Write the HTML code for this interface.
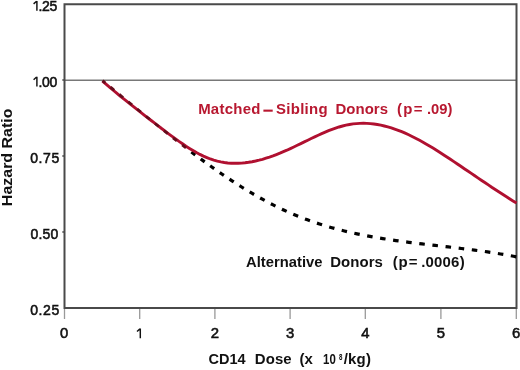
<!DOCTYPE html>
<html><head><meta charset="utf-8"><style>
html,body{margin:0;padding:0;background:#fff;}
body{width:520px;height:370px;overflow:hidden;position:relative;}
svg{position:absolute;left:0;top:0;filter:blur(0.35px);}
text{font-family:"Liberation Sans",sans-serif;}
</style></head><body>
<svg width="520" height="370" viewBox="0 0 520 370">
<g fill="none" stroke-linecap="butt">
<line x1="64" y1="80.3" x2="516" y2="80.3" stroke="#787878" stroke-width="1.5"/>
<path d="M64.5,4.3 H516.5 V308.1 H64.5 Z" stroke="#4a4a4a" stroke-width="2"/>
<g stroke="#999" stroke-width="1.3">
<line x1="64.5" y1="309" x2="64.5" y2="319"/>
<line x1="139.7" y1="309" x2="139.7" y2="319"/>
<line x1="214.9" y1="309" x2="214.9" y2="319"/>
<line x1="290.1" y1="309" x2="290.1" y2="319"/>
<line x1="365.3" y1="309" x2="365.3" y2="319"/>
<line x1="440.9" y1="309" x2="440.9" y2="319"/>
<line x1="516.3" y1="309" x2="516.3" y2="319"/>
</g>
<g stroke="#4a4a4a" stroke-width="1.5">
<line x1="62.3" y1="80.1" x2="64" y2="80.1"/>
<line x1="62.3" y1="156.1" x2="64" y2="156.1"/>
<line x1="62.3" y1="232.1" x2="64" y2="232.1"/>
</g>
<path d="M191.38,151.98 L193.33,153.45 L195.28,154.91 M200.70,158.94 L202.68,160.39 L204.66,161.84 M210.16,165.81 L212.17,167.24 L214.18,168.66 M219.77,172.57 L221.81,173.97 L223.85,175.37 M229.55,179.19 L231.62,180.56 L233.71,181.92 M239.52,185.65 L241.64,186.99 L243.77,188.31 M249.71,191.93 L251.88,193.22 L254.06,194.50 M260.15,197.98 L262.38,199.22 L264.62,200.44 M270.87,203.76 L273.16,204.93 L275.46,206.09 M281.90,209.21 L284.26,210.31 L286.64,211.39 M293.27,214.28 L295.70,215.29 L298.14,216.28 M304.97,218.92 L307.46,219.84 L309.97,220.75 M316.96,223.14 L319.51,223.97 L322.08,224.78 M329.21,226.93 L331.82,227.67 L334.43,228.39 M341.69,230.29 L344.34,230.95 L346.99,231.59 M354.36,233.26 L357.04,233.84 L359.72,234.40 M367.17,235.87 L369.87,236.37 L372.59,236.87 M380.09,238.15 L382.82,238.60 L385.55,239.03 M393.10,240.16 L395.84,240.56 L398.59,240.94 M406.17,241.96 L408.92,242.31 L411.67,242.66 M419.28,243.59 L422.03,243.92 L424.79,244.24 M432.41,245.12 L435.17,245.44 L437.93,245.75 M445.55,246.62 L448.30,246.94 L451.06,247.26 M458.68,248.15 L461.43,248.48 L464.19,248.81 M471.79,249.77 L474.54,250.13 L477.28,250.49 M484.86,251.54 L487.60,251.94 L490.34,252.34 M497.88,253.52 L500.60,253.97 L503.32,254.43 M510.81,255.77 L513.52,256.28 L516.22,256.81" stroke="#000" stroke-width="3.2"/>
<path d="M102.5,81.1 L106.0,84.1 L109.5,87.1 L112.9,90.0 L116.4,92.9 L119.9,95.8 L123.4,98.6 L126.9,101.4 L130.3,104.2 L133.8,106.9 L137.3,109.7 L140.8,112.4 L144.2,115.1 L147.7,117.8 L151.2,120.5 L154.7,123.1 L158.2,125.8 L161.6,128.5 L165.1,131.1 L168.6,133.8 L172.1,136.4 L175.6,138.9 L179.0,141.4 L182.5,143.8 L186.0,146.2 L189.5,148.4 L193.0,150.5 L196.4,152.5 L199.9,154.4 L203.4,156.1 L206.9,157.6 L210.3,159.0 L213.8,160.1 L217.3,161.1 L220.8,161.9 L224.3,162.5 L227.7,163.0 L231.2,163.2 L234.7,163.3 L238.2,163.3 L241.7,163.1 L245.1,162.8 L248.6,162.3 L252.1,161.7 L255.6,161.0 L259.1,160.2 L262.5,159.3 L266.0,158.2 L269.5,157.1 L273.0,155.9 L276.4,154.6 L279.9,153.2 L283.4,151.7 L286.9,150.2 L290.4,148.6 L293.8,147.0 L297.3,145.3 L300.8,143.6 L304.3,141.9 L307.8,140.2 L311.2,138.5 L314.7,136.9 L318.2,135.3 L321.7,133.7 L325.2,132.2 L328.6,130.7 L332.1,129.4 L335.6,128.2 L339.1,127.0 L342.6,126.0 L346.0,125.2 L349.5,124.5 L353.0,123.9 L356.5,123.6 L359.9,123.4 L363.4,123.3 L366.9,123.4 L370.4,123.6 L373.9,124.0 L377.3,124.5 L380.8,125.2 L384.3,126.0 L387.8,126.9 L391.3,127.9 L394.7,129.1 L398.2,130.3 L401.7,131.7 L405.2,133.2 L408.7,134.8 L412.1,136.5 L415.6,138.2 L419.1,140.1 L422.6,142.0 L426.0,144.0 L429.5,146.0 L433.0,148.1 L436.5,150.3 L440.0,152.5 L443.4,154.7 L446.9,157.0 L450.4,159.3 L453.9,161.6 L457.4,164.0 L460.8,166.3 L464.3,168.7 L467.8,171.0 L471.3,173.4 L474.8,175.8 L478.2,178.1 L481.7,180.5 L485.2,182.8 L488.7,185.1 L492.1,187.5 L495.6,189.8 L499.1,192.0 L502.6,194.3 L506.1,196.5 L509.5,198.7 L513.0,200.9 L516.5,203.1" stroke="#b01030" stroke-width="2.9"/>
<path d="M102.50,80.69 L103.43,81.44 L105.30,82.97 M110.47,87.18 L112.33,88.70 L114.20,90.23 M119.36,94.44 L121.22,95.97 L123.09,97.49 M128.24,101.71 L130.11,103.24 L131.98,104.76 M137.14,108.98 L139.00,110.50 L140.87,112.03 M146.05,116.23 L147.92,117.75 L149.80,119.27 M154.99,123.47 L156.87,124.98 L158.76,126.49 M163.98,130.67 L165.87,132.17 L167.77,133.68 M173.03,137.83 L174.94,139.32 L176.85,140.82 M182.16,144.93 L184.08,146.42 L186.02,147.90" stroke="#640c1c" stroke-width="2.8"/>
</g>
<rect x="263.4" y="109.6" width="9.3" height="2.1" fill="#b81830"/>
<text transform="translate(198.14,114.0) scale(1.070,1)" x="0" y="0" font-size="14" font-weight="bold" fill="#b81830" textLength="58.15" lengthAdjust="spacing">Matched</text>
<text transform="translate(276.07,114.0) scale(1.070,1)" x="0" y="0" font-size="14" font-weight="bold" fill="#b81830" textLength="48.18" lengthAdjust="spacing">Sibling</text>
<text transform="translate(335.54,114.0) scale(1.070,1)" x="0" y="0" font-size="14" font-weight="bold" fill="#b81830" textLength="49.07" lengthAdjust="spacing">Donors</text>
<text transform="translate(396.95,114.0) scale(1.070,1)" x="0" y="0" font-size="14" font-weight="bold" fill="#b81830" textLength="24.00" lengthAdjust="spacing">(p=</text>
<text transform="translate(426.95,114.0) scale(1.054,1)" x="0" y="0" font-size="14" font-weight="bold" fill="#b81830" textLength="24.12" lengthAdjust="spacing">.09)</text>
<text transform="translate(246.08,266.8) scale(1.056,1)" x="0" y="0" font-size="14" font-weight="bold" fill="#111" textLength="72.36" lengthAdjust="spacing">Alternative</text>
<text transform="translate(330.14,266.8) scale(1.070,1)" x="0" y="0" font-size="14" font-weight="bold" fill="#111" textLength="49.26" lengthAdjust="spacing">Donors</text>
<text transform="translate(392.65,266.8) scale(1.070,1)" x="0" y="0" font-size="14" font-weight="bold" fill="#111" textLength="23.16" lengthAdjust="spacing">(p=</text>
<text transform="translate(421.13,266.8) scale(1.070,1)" x="0" y="0" font-size="14" font-weight="bold" fill="#111" textLength="40.67" lengthAdjust="spacing">.0006)</text>
<text transform="translate(208.48,364.0) scale(1.037,1)" x="0" y="0" font-size="14" font-weight="bold" fill="#111" textLength="35.79" lengthAdjust="spacing">CD14</text>
<text transform="translate(254.74,364.0) scale(1.070,1)" x="0" y="0" font-size="14" font-weight="bold" fill="#111" textLength="34.51" lengthAdjust="spacing">Dose</text>
<text transform="translate(299.55,364.0) scale(1.069,1)" x="0" y="0" font-size="14" font-weight="bold" fill="#111" textLength="12.45" lengthAdjust="spacing">(x</text>
<text x="323.07" y="364.0" font-size="14" font-weight="bold" fill="#111" textLength="12.70" lengthAdjust="spacingAndGlyphs">10</text>
<text transform="translate(343.79,364.0) scale(1.070,1)" x="0" y="0" font-size="14" font-weight="bold" fill="#111" textLength="25.37" lengthAdjust="spacing">/kg)</text>
<text x="339.02" y="359.6" font-size="9" font-weight="bold" fill="#111" textLength="3.45" lengthAdjust="spacingAndGlyphs">8</text>
<text x="30.17" y="162.5" font-size="14" stroke="#111" stroke-width="0.55" fill="#111" textLength="29.02" lengthAdjust="spacing">0.75</text>
<text x="30.59" y="238.5" font-size="14" stroke="#111" stroke-width="0.55" fill="#111" textLength="27.77" lengthAdjust="spacing">0.50</text>
<text x="30.17" y="314.5" font-size="14" stroke="#111" stroke-width="0.55" fill="#111" textLength="29.02" lengthAdjust="spacing">0.25</text>
<path d="M36.90,0.90 V10.70 M33.60,3.90 L36.60,1.25" stroke="#111" stroke-width="1.45" fill="none"/>
<text x="38.4" y="10.7" font-size="14" fill="#111" stroke="#111" stroke-width="0.55" textLength="18.9" lengthAdjust="spacing">.25</text>
<path d="M36.90,76.70 V86.50 M33.60,79.70 L36.60,77.05" stroke="#111" stroke-width="1.45" fill="none"/>
<text x="38.4" y="86.5" font-size="14" fill="#111" stroke="#111" stroke-width="0.55" textLength="18.9" lengthAdjust="spacing">.00</text>
<text x="59.97" y="338.3" font-size="14" stroke="#111" stroke-width="0.55" fill="#111" textLength="8.25" lengthAdjust="spacingAndGlyphs">0</text>
<text x="210.76" y="338.3" font-size="14" stroke="#111" stroke-width="0.55" fill="#111" textLength="8.27" lengthAdjust="spacingAndGlyphs">2</text>
<text x="286.02" y="338.3" font-size="14" stroke="#111" stroke-width="0.55" fill="#111" textLength="8.25" lengthAdjust="spacingAndGlyphs">3</text>
<text x="361.23" y="338.3" font-size="14" stroke="#111" stroke-width="0.55" fill="#111" textLength="8.23" lengthAdjust="spacingAndGlyphs">4</text>
<text x="436.76" y="338.3" font-size="14" stroke="#111" stroke-width="0.55" fill="#111" textLength="8.26" lengthAdjust="spacingAndGlyphs">5</text>
<text x="512.11" y="338.3" font-size="14" stroke="#111" stroke-width="0.55" fill="#111" textLength="8.27" lengthAdjust="spacingAndGlyphs">6</text>
<path d="M140.30,328.50 V338.30 M137.00,331.50 L140.00,328.85" stroke="#111" stroke-width="1.45" fill="none"/>
<text transform="translate(11.8,206.13) rotate(-90)" font-size="14" font-weight="bold" fill="#111" textLength="97.58" lengthAdjust="spacingAndGlyphs">Hazard Ratio</text>
</svg>
</body></html>
